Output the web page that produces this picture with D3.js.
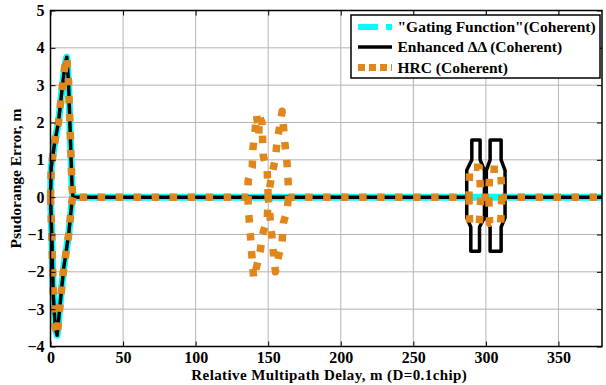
<!DOCTYPE html>
<html>
<head>
<meta charset="utf-8">
<script src="https://cdn.jsdelivr.net/npm/d3@7"></script>
<style>
  html, body { margin: 0; padding: 0; background: #fff; }
  svg { display: block; }
  text { font-family: "Liberation Serif", "Times New Roman", serif; font-weight: bold; }
</style>
</head>
<body>
<svg id="chart" width="606" height="385"></svg>
<script>
// ---------- data ----------
const xTicks = [0, 50, 100, 150, 200, 250, 300, 350];
const yTicks = [-4, -3, -2, -1, 0, 1, 2, 3, 4, 5];
const xDomain = [0, 380];
const yDomain = [-4, 5];

const seriesNames = ['"Gating Function"(Coherent)', "Enhanced \u0394\u0394 (Coherent)", "HRC (Coherent)"];
const seriesColors = ["#00FFFF", "#000000", "#E0861B"];

// envelope near zero delay (shared by all three methods)
const loopUpper = [[0,0],[0.5,0.8],[3,1.5],[5.5,2.0],[7.7,2.8],[10,3.55],[11.2,3.75],[12.4,3.1],[13.6,1.7],[14.8,0.3],[15.5,0]];
const loopLower = [[0,0],[0.8,-0.9],[1.9,-2.6],[3.3,-3.5],[4.6,-3.7],[6.9,-2.75],[9.1,-1.9],[12.6,-0.97],[14.8,-0.1],[15.5,0]];
const tailEnd = [[380,0]];

// Enhanced ΔΔ: two capsule-like envelopes near one chip
const enhCap1Upper = [[286.8,0],[286.8,0.72],[290.3,1.0],[290.3,1.53],[296,1.53],[296,1.0],[299,0.72],[299,0]];
const enhCap1Lower = [[286.8,0],[286.8,-0.55],[289.6,-0.8],[289.6,-1.45],[295.6,-1.45],[295.6,-0.8],[299,-0.55],[299,0]];
const enhCap2Upper = [[300.3,0],[300.3,0.72],[302.9,1.0],[302.9,1.53],[310.5,1.53],[310.5,1.0],[313.2,0.72],[313.2,0]];
const enhCap2Lower = [[300.3,0],[300.3,-0.55],[302.9,-0.8],[302.9,-1.45],[310.5,-1.45],[310.5,-0.8],[313.2,-0.55],[313.2,0]];

// HRC: bumps near half chip and small ones near one chip
const hrcMidUpper = [[136,0],[136.2,0.45],[139,0.8],[139.5,1.3],[141,1.8],[142,2.2],[143.5,1.7],[144,2.15],[145.7,2.0],[146.6,1.1],[149.3,0.72],[150,0],
                     [152,0.5],[155,1.05],[156.2,1.53],[158,1.9],[159.6,2.3],[160.5,1.9],[161.6,1.39],[163,0.91],[163.7,0.46],[164,0]];
const hrcMidLower = [[136,0],[136.5,-0.4],[137.7,-1.0],[139,-1.7],[140,-2.17],[142.4,-1.8],[144.6,-1.42],[146,-1.0],[149.3,-0.62],[150,0],
                     [152.6,-1.07],[153.6,-1.5],[155,-2.0],[157,-1.6],[159.6,-1.2],[160.4,-0.7],[163,-0.35],[164,0]];
const hrcNearUpper = [[288.3,0],[288.8,0.8],[295.5,0.8],[296.5,0],[302,0],[302.6,0.75],[310.2,0.75],[311,0]];
const hrcNearLower = [[288.3,0],[288.8,-0.7],[295.5,-0.7],[296.5,0],[302,0],[302.6,-0.7],[310.2,-0.7],[311,0]];

// ---------- chart ----------
const svg = d3.select("#chart");
const m = { left: 50.5, right: 602, top: 10.5, bottom: 346.5 };
const x = d3.scaleLinear().domain(xDomain).range([m.left, m.right]);
const y = d3.scaleLinear().domain(yDomain).range([m.bottom, m.top]);

// grid
const grid = svg.append("g");
grid.selectAll(".gx").data(xTicks.slice(1)).enter().append("line")
  .attr("x1", d => x(d)).attr("x2", d => x(d)).attr("y1", m.top).attr("y2", m.bottom)
  .attr("stroke", "#b4b4b4").attr("stroke-width", 1);
grid.selectAll(".gy").data(yTicks.slice(1, -1)).enter().append("line")
  .attr("y1", d => y(d)).attr("y2", d => y(d)).attr("x1", m.left).attr("x2", m.right)
  .attr("stroke", "#b4b4b4").attr("stroke-width", 1);

const line = d3.line().x(d => x(d[0])).y(d => y(d[1]));
const plot = svg.append("g");
function draw(pts, style) {
  const p = plot.append("path").attr("d", line(pts)).attr("fill", "none")
    .attr("stroke", style.color).attr("stroke-width", style.width)
    .attr("stroke-linejoin", "round");
  if (style.dash) p.attr("stroke-dasharray", style.dash);
  return p;
}

// Gating function (cyan, wide)
const gStyle = { color: seriesColors[0], width: 7 };
draw(loopUpper.concat(tailEnd), gStyle);
draw(loopLower, gStyle);

// Enhanced ΔΔ (black)
const eStyle = { color: seriesColors[1], width: 3.5 };
draw(loopUpper.concat(enhCap1Upper, enhCap2Upper, tailEnd), eStyle);
draw(loopLower, eStyle);
draw(enhCap1Lower, eStyle);
draw(enhCap2Lower, eStyle);

// HRC (orange, dotted squares)
const hStyle = { color: seriesColors[2], width: 7.5, dash: "7.5,10.5" };
draw(loopUpper.concat(hrcMidUpper, hrcNearUpper, tailEnd), hStyle);
draw(loopLower, hStyle);
draw(hrcMidLower, hStyle);
draw(hrcNearLower, hStyle);

// axes
const fs = "16px";
const xAx = svg.append("g").attr("transform", `translate(0,${m.bottom})`)
  .call(d3.axisBottom(x).tickValues(xTicks).tickSizeInner(-5).tickSizeOuter(0).tickPadding(5));
const xAxTop = svg.append("g").attr("transform", `translate(0,${m.top})`)
  .call(d3.axisTop(x).tickValues(xTicks).tickSizeInner(-5).tickSizeOuter(0).tickFormat(""));
const yAx = svg.append("g").attr("transform", `translate(${m.left},0)`)
  .call(d3.axisLeft(y).tickValues(yTicks).tickSizeInner(-5).tickSizeOuter(0).tickPadding(6));
const yAxR = svg.append("g").attr("transform", `translate(${m.right},0)`)
  .call(d3.axisRight(y).tickValues(yTicks).tickSizeInner(-5).tickSizeOuter(0).tickFormat(""));
[xAx, xAxTop, yAx, yAxR].forEach(g => {
  g.select(".domain").remove();
  g.selectAll(".tick line").attr("stroke", "#000").attr("stroke-width", 1);
  g.selectAll("text").attr("font-size", fs).attr("font-family", "Liberation Serif, serif")
    .attr("font-weight", "bold").attr("fill", "#000");
});

// plot box
svg.append("rect").attr("x", m.left).attr("y", m.top)
  .attr("width", m.right - m.left).attr("height", m.bottom - m.top)
  .attr("fill", "none").attr("stroke", "#000").attr("stroke-width", 1.5);

// axis titles
svg.append("text").attr("x", (m.left + m.right) / 2 + 3).attr("y", 380)
  .attr("text-anchor", "middle").attr("font-size", "15px").attr("letter-spacing", "0.4px")
  .text("Relative Multipath Delay, m (D=0.1chip)");
svg.append("text").attr("transform", `translate(21,${(m.top + m.bottom) / 2}) rotate(-90)`)
  .attr("text-anchor", "middle").attr("font-size", "15.5px")
  .text("Psudorange Error, m");

// legend
const lg = svg.append("g");
lg.append("rect").attr("x", 351).attr("y", 15).attr("width", 249).attr("height", 63)
  .attr("fill", "#fff").attr("stroke", "#000").attr("stroke-width", 1.5);
const rows = [27, 47, 67.5];
const legStyles = [
  { color: seriesColors[0], width: 6, dash: "20,8" },
  { color: seriesColors[1], width: 3.5 },
  { color: seriesColors[2], width: 7, dash: "7,4" }
];
rows.forEach((ry, i) => {
  const l = lg.append("line").attr("x1", 358).attr("x2", 392).attr("y1", ry).attr("y2", ry)
    .attr("stroke", legStyles[i].color).attr("stroke-width", legStyles[i].width);
  if (legStyles[i].dash) l.attr("stroke-dasharray", legStyles[i].dash);
  lg.append("text").attr("x", 397.5).attr("y", ry).attr("dy", "0.35em")
    .attr("font-size", "15.5px").text(seriesNames[i]);
});
</script>
</body>
</html>
